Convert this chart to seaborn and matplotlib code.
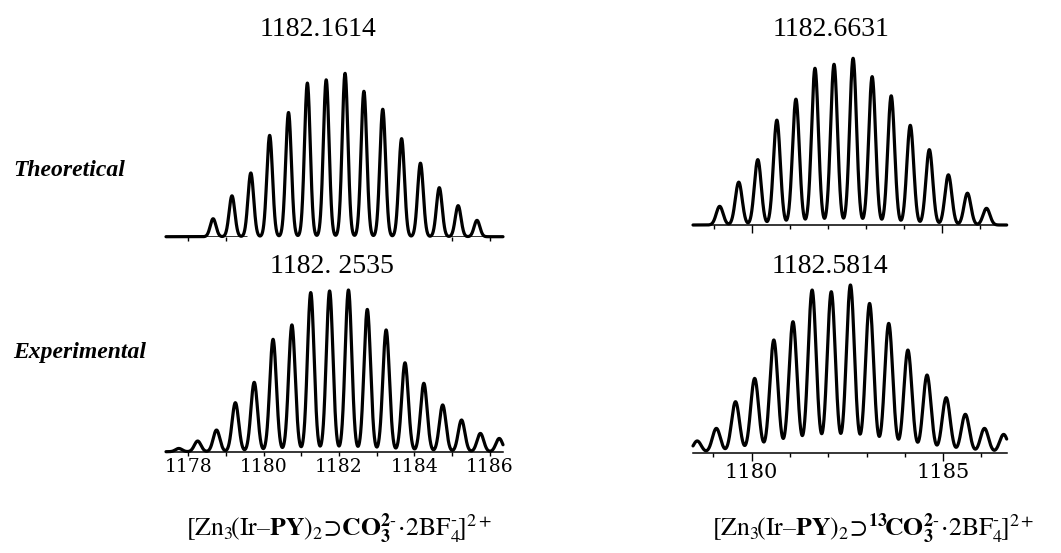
import numpy as np
import pandas as pd
import matplotlib
matplotlib.use("Agg")
import matplotlib.pyplot as plt
import seaborn as sns

# ---------------- data ----------------
theo1_mz = [1178.66, 1179.16, 1179.66, 1180.16, 1180.66, 1181.16, 1181.66, 1182.16,
            1182.66, 1183.16, 1183.66, 1184.16, 1184.66, 1185.16, 1185.66]
theo1_int = [0.11, 0.25, 0.39, 0.62, 0.76, 0.94, 0.96, 1.00,
             0.89, 0.78, 0.60, 0.45, 0.30, 0.19, 0.10]

exp1_mz = [1177.75, 1178.25, 1178.75, 1179.25, 1179.75, 1180.25, 1180.75, 1181.25, 1181.75,
           1182.25, 1182.75, 1183.25, 1183.75, 1184.25, 1184.75, 1185.25, 1185.75, 1186.25]
exp1_int = [0.02, 0.066, 0.134, 0.303, 0.429, 0.695, 0.784, 0.984, 0.994,
            1.00, 0.88, 0.753, 0.55, 0.423, 0.289, 0.196, 0.113, 0.082]

theo2_mz = [1179.16, 1179.66, 1180.16, 1180.66, 1181.16, 1181.66, 1182.16, 1182.66,
            1183.16, 1183.66, 1184.16, 1184.66, 1185.16, 1185.66, 1186.16]
theo2_int = [0.112, 0.257, 0.392, 0.629, 0.755, 0.94, 0.964, 1.00,
             0.89, 0.775, 0.598, 0.452, 0.301, 0.191, 0.10]

exp2_mz = [1178.58, 1179.08, 1179.58, 1180.08, 1180.58, 1181.08, 1181.58, 1182.08, 1182.58,
           1183.08, 1183.58, 1184.08, 1184.58, 1185.08, 1185.58, 1186.08, 1186.58]
exp2_int = [0.07, 0.145, 0.304, 0.443, 0.672, 0.781, 0.97, 0.96, 1.00,
            0.89, 0.771, 0.612, 0.463, 0.328, 0.229, 0.145, 0.109]

titles = ["1182.1614", "1182. 2535", "1182.6631", "1182.5814"]
row_labels = ["Theoretical", "Experimental"]
formula_left = (r"$[\mathrm{Zn}_{3}\!(\mathrm{Ir}\text{–}\mathbf{PY})_{2}\!\supset\!"
                r"\mathbf{CO}_{\mathbf{3}}^{\mathbf{2}\text{-}}\!\cdot\!2\mathrm{BF}_{4}^{\text{-}}\!]^{2+}$")
formula_right = (r"$[\mathrm{Zn}_{3}\!(\mathrm{Ir}\text{–}\mathbf{PY})_{2}\!\supset\!{}^{\mathbf{13}}\!"
                 r"\mathbf{CO}_{\mathbf{3}}^{\mathbf{2}\text{-}}\!\cdot\!2\mathrm{BF}_{4}^{\text{-}}\!]^{2+}$")

left_ticks = [1178, 1179, 1180, 1181, 1182, 1183, 1184, 1185, 1186]
left_ticklabels = ["1178", "", "1180", "", "1182", "", "1184", "", "1186"]
right_major = [1180, 1185]
right_minor = [1179, 1181, 1182, 1183, 1184, 1186]

# ---------------- style ----------------
sns.set_theme(style="white")
plt.rcParams["font.family"] = ["Liberation Serif", "DejaVu Serif"]
plt.rcParams["mathtext.fontset"] = "stix"

W, H = 1061, 553
fig = plt.figure(figsize=(W / 100, H / 100), dpi=100)
fig.patch.set_facecolor("white")

YMAX = 1.08


def make_axes(left, right, base, top):
    h1 = base - top
    ax = fig.add_axes([left / W, 1 - base / H, (right - left) / W, h1 * YMAX / H])
    ax.set_ylim(0, YMAX)
    ax.set_facecolor("none")
    for s in ["left", "top", "right"]:
        ax.spines[s].set_visible(False)
    ax.spines["bottom"].set_color("black")
    ax.spines["bottom"].set_linewidth(1.1)
    ax.set_yticks([])
    return ax


def draw_profile(ax, mz, inten, sigma, xlim):
    grid = np.linspace(xlim[0], xlim[1], 3000)
    mz = np.asarray(mz)[:, None]
    inten = np.asarray(inten)[:, None]
    prof = (inten * np.exp(-(grid[None, :] - mz) ** 2 / (2 * sigma ** 2))).sum(axis=0)
    df = pd.DataFrame({"mz": grid, "intensity": prof})
    sns.lineplot(data=df, x="mz", y="intensity", ax=ax, color="black",
                 linewidth=2.3, clip_on=False)
    ax.set_xlim(*xlim)
    ax.set_xlabel("")
    ax.set_ylabel("")


# top-left: theoretical
xl1 = (1177.41, 1186.35)
ax1 = make_axes(166, 503, 236.7, 73.3)
draw_profile(ax1, theo1_mz, theo1_int, 0.076, xl1)
ax1.spines["bottom"].set_visible(False)
ax1.axhline(0, xmin=0, xmax=0.24, color="black", lw=1.1)
ax1.axhline(0, xmin=0.789, xmax=1, color="black", lw=1.1)
ax1.set_xticks([1178, 1179, 1185, 1186])
ax1.set_xticklabels([])
ax1.tick_params(axis="x", bottom=True, direction="out", length=3, width=1.0, color="black")

# bottom-left: experimental
ax2 = make_axes(166, 503, 451.7, 290)
draw_profile(ax2, exp1_mz, exp1_int, 0.088, xl1)
ax2.set_xticks(left_ticks)
ax2.set_xticklabels(left_ticklabels, family="DejaVu Serif", fontsize=13.5)
ax2.tick_params(axis="x", bottom=True, direction="out", length=3, width=1.0,
                color="black", pad=1.5, labelcolor="black")

# top-right: theoretical
xl2 = (1178.46, 1186.69)
ax3 = make_axes(693, 1006.7, 225, 58.3)
draw_profile(ax3, theo2_mz, theo2_int, 0.09, xl2)
ax3.set_xticks(right_major)
ax3.set_xticks(right_minor, minor=True)
ax3.set_xticklabels([])
ax3.tick_params(axis="x", which="major", bottom=True, direction="out", length=5.5, width=1.0, color="black")
ax3.tick_params(axis="x", which="minor", bottom=True, direction="out", length=3, width=1.0, color="black")

# bottom-right: experimental
ax4 = make_axes(693, 1006.7, 452.7, 285)
draw_profile(ax4, exp2_mz, exp2_int, 0.105, (1178.47, 1186.66))
ax4.set_xticks(right_major)
ax4.set_xticks(right_minor, minor=True)
ax4.set_xticklabels(["1180", "1185"], family="DejaVu Serif", fontsize=15)
ax4.tick_params(axis="x", which="major", bottom=True, direction="out", length=5.5, width=1.0,
                color="black", pad=2.0, labelcolor="black")
ax4.tick_params(axis="x", which="minor", bottom=True, direction="out", length=3, width=1.0, color="black")


def ftext(x, y, s, **kw):
    fig.text(x / W, 1 - y / H, s, color="black", **kw)


# peak titles
ftext(318, 36, titles[0], ha="center", va="baseline", fontsize=20)
ftext(331.5, 272.7, titles[1], ha="center", va="baseline", fontsize=20)
ftext(831, 36, titles[2], ha="center", va="baseline", fontsize=20)
ftext(830, 272.7, titles[3], ha="center", va="baseline", fontsize=20)

# row labels
ftext(13, 176, row_labels[0], ha="left", va="baseline", fontsize=17,
      fontweight="bold", fontstyle="italic")
ftext(12.7, 358.3, row_labels[1], ha="left", va="baseline", fontsize=17,
      fontweight="bold", fontstyle="italic")

# formulas
ftext(339, 536, formula_left, ha="center", va="baseline", fontsize=18.5)
ftext(873, 536, formula_right, ha="center", va="baseline", fontsize=18.5)

fig.savefig("out.png", dpi=100, facecolor="white")
